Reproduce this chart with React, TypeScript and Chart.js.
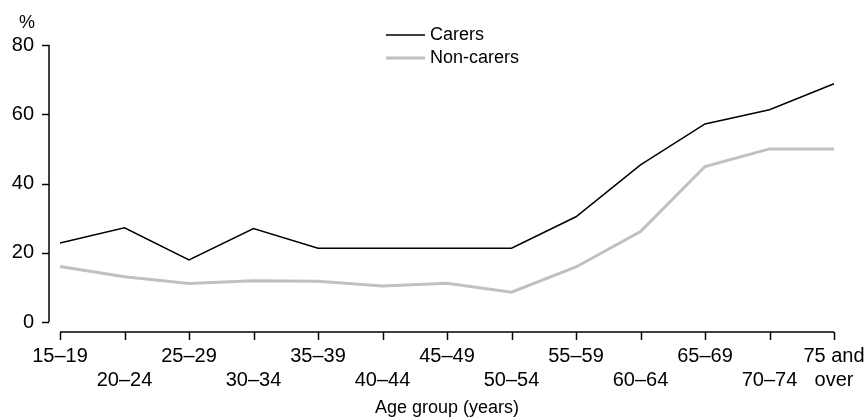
import React, { useEffect, useRef } from "react";
import { Chart, registerables } from "chart.js";

Chart.register(...registerables);

const categories: (string | string[])[] = [
  ["15–19", ""], ["", "20–24"], ["25–29", ""], ["", "30–34"], ["35–39", ""], ["", "40–44"],
  ["45–49", ""], ["", "50–54"], ["55–59", ""], ["", "60–64"], ["65–69", ""], ["", "70–74"], ["75 and", "over"],
];
const carers = [22.8, 27.2, 17.9, 27.0, 21.3, 21.3, 21.3, 21.3, 30.4, 45.4, 57.2, 61.3, 68.8];
const nonCarers = [16.0, 13.1, 11.1, 11.9, 11.8, 10.4, 11.2, 8.6, 15.9, 26.1, 44.9, 50.0, 50.0];
const yTicks = [0, 20, 40, 60, 80];
const seriesNames = ["Carers", "Non-carers"];

const FONT = "'Liberation Sans', Arial, sans-serif";
const GREY = "#c0c0c0";

const decor = {
  id: "decor",
  afterDraw(chart: any) {
    const ctx = chart.ctx;
    const { left, right, bottom } = chart.chartArea;
    const x = chart.scales.x;
    const y = chart.scales.y;
    ctx.save();
    ctx.strokeStyle = "#000";
    ctx.lineWidth = 1.5;
    // y axis
    const ax = left - 11;
    ctx.beginPath();
    ctx.moveTo(ax, y.getPixelForValue(80));
    ctx.lineTo(ax, y.getPixelForValue(0));
    ctx.stroke();
    for (const v of yTicks) {
      const py = Math.round(y.getPixelForValue(v)) + 0.5;
      ctx.beginPath();
      ctx.moveTo(ax - 7, py);
      ctx.lineTo(ax, py);
      ctx.stroke();
    }
    // x axis
    const ay = bottom + 10;
    ctx.beginPath();
    ctx.moveTo(left, ay);
    ctx.lineTo(right, ay);
    ctx.stroke();
    for (let i = 0; i < categories.length; i++) {
      const px = Math.round(x.getPixelForValue(i)) + 0.5;
      ctx.beginPath();
      ctx.moveTo(px, ay);
      ctx.lineTo(px, ay + 8);
      ctx.stroke();
    }
    ctx.fillStyle = "#000";
    ctx.font = `18px ${FONT}`;
    ctx.textAlign = "center";
    ctx.textBaseline = "middle";
    ctx.fillText("%", 27, 23);
    ctx.fillText("Age group (years)", (left + right) / 2, 408);
    // legend
    const colors = ["#000", GREY];
    const widths = [1.5, 3];
    const ys = [35, 58];
    ctx.textAlign = "left";
    for (let i = 0; i < 2; i++) {
      ctx.strokeStyle = colors[i];
      ctx.lineWidth = widths[i];
      ctx.beginPath();
      ctx.moveTo(386, ys[i]);
      ctx.lineTo(425, ys[i]);
      ctx.stroke();
      ctx.fillText(seriesNames[i], 430, ys[i]);
    }
    ctx.restore();
  },
};

export default function App() {
  const ref = useRef<HTMLCanvasElement>(null);
  useEffect(() => {
    document.body.style.margin = "0";
    const chart = new Chart(ref.current!, {
      type: "line",
      data: {
        labels: categories as any,
        datasets: [
          { label: seriesNames[0], data: carers, borderColor: "#000", borderWidth: 1.5, pointRadius: 0, tension: 0 },
          { label: seriesNames[1], data: nonCarers, borderColor: GREY, borderWidth: 3, pointRadius: 0, tension: 0 },
        ],
      },
      options: {
        animation: false,
        responsive: false,
        layout: { padding: { left: 0, right: 33, top: 45, bottom: 0 } },
        plugins: { legend: { display: false }, tooltip: { enabled: false } },
        scales: {
          x: {
            offset: false,
            grid: { display: false, drawTicks: false },
            border: { display: false },
            ticks: {
              color: "#000",
              font: { family: FONT, size: 20 },
              padding: 22,
              maxRotation: 0,
              autoSkip: false,
            },
            afterFit(scale: any) {
              scale.height = 96;
              scale.paddingLeft = 0;
              scale.paddingRight = 0;
            },
          },
          y: {
            min: 0,
            max: 80,
            grid: { display: false, drawTicks: false },
            border: { display: false },
            afterBuildTicks(scale: any) { scale.ticks = yTicks.map((v) => ({ value: v })); },
            ticks: {
              color: "#000",
              font: { family: FONT, size: 20 },
              padding: 26,
            },
            afterFit(scale: any) {
              scale.width = 60;
              scale.paddingTop = 0;
              scale.paddingBottom = 0;
            },
          },
        },
      },
      plugins: [decor],
    });
    return () => chart.destroy();
  }, []);
  return (
    <div style={{ width: 867, height: 418 }}>
      <canvas ref={ref} width={867} height={418} style={{ display: "block" }} />
    </div>
  );
}
